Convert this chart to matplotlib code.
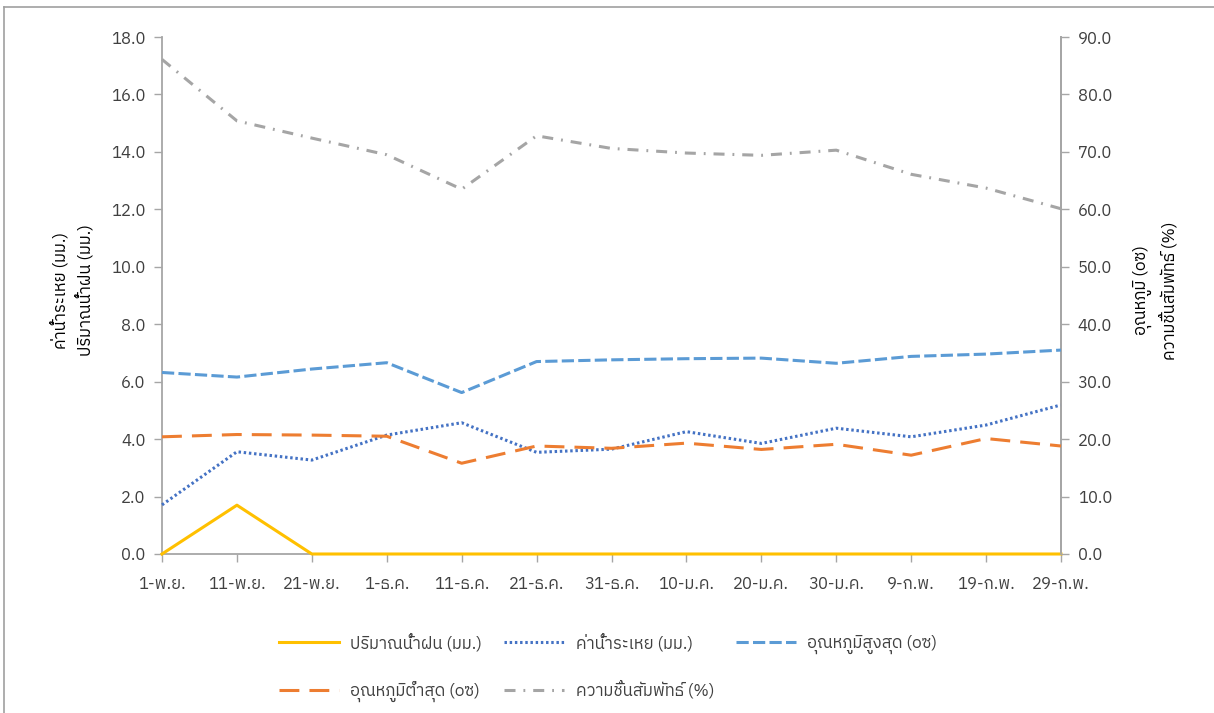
import matplotlib
matplotlib.use("Agg")
import matplotlib.pyplot as plt
from matplotlib import font_manager
from matplotlib.ft2font import FT2Font
from matplotlib.lines import Line2D

# ---------------- data ----------------
categories = ["1-พ.ย.", "11-พ.ย.", "21-พ.ย.", "1-ธ.ค.", "11-ธ.ค.", "21-ธ.ค.", "31-ธ.ค.",
              "10-ม.ค.", "20-ม.ค.", "30-ม.ค.", "9-ก.พ.", "19-ก.พ.", "29-ก.พ."]
rain = [0.0, 1.7, 0.0, 0.0, 0.0, 0.0, 0.0, 0.0, 0.0, 0.0, 0.0, 0.0, 0.0]
evap = [1.71, 3.56, 3.27, 4.14, 4.57, 3.54, 3.65, 4.26, 3.85, 4.38, 4.08, 4.49, 5.19]
tmax = [31.6, 30.8, 32.2, 33.3, 28.1, 33.5, 33.8, 34.0, 34.1, 33.2, 34.4, 34.8, 35.5]
tmin = [20.4, 20.8, 20.7, 20.5, 15.8, 18.8, 18.4, 19.3, 18.2, 19.1, 17.2, 20.1, 18.8]
humid = [86.1, 75.4, 72.4, 69.5, 63.5, 72.8, 70.6, 69.8, 69.4, 70.3, 66.1, 63.7, 60.1]

names = ["ปริมาณน้ำฝน (มม.)", "ค่าน้ำระเหย (มม.)", "อุณหภูมิสูงสุด (๐ซ)",
         "อุณหภูมิต่ำสุด (๐ซ)", "ความชื้นสัมพัทธ์ (%)"]
left_label = "ค่าน้ำระเหย (มม.)\nปริมาณน้ำฝน (มม.)"
right_label = "อุณหภูมิ (๐ซ)\nความชื้นสัมพัทธ์ (%)"
left_ticks = [0, 2, 4, 6, 8, 10, 12, 14, 16, 18]
right_ticks = [0, 10, 20, 30, 40, 50, 60, 70, 80, 90]

# ---------------- font with Thai glyphs ----------------
thai_fams = []
seen = set()
for fe in font_manager.fontManager.ttflist:
    if fe.name in seen:
        continue
    try:
        cm = FT2Font(fe.fname).get_charmap()
    except Exception:
        continue
    if 0x0E01 in cm and 0x0E49 in cm:
        seen.add(fe.name)
        thai_fams.append(fe.name)
pref = [f for f in thai_fams if "Thai" in f and "Looped" not in f] + thai_fams
family = (pref[:1] if pref else []) + ["DejaVu Sans"]
plt.rcParams["font.family"] = family

# ---------------- figure ----------------
W, H = 1214, 713
fig = plt.figure(figsize=(W / 100, H / 100), dpi=100)
ax = fig.add_axes([162 / W, 1 - 554 / H, (1061 - 162) / W, (554 - 37) / H])
ax2 = ax.twinx()

x = list(range(len(categories)))
lw = 2.2
st_rain = dict(color="#FFC000", lw=lw)
st_evap = dict(color="#4472C4", lw=lw, linestyle=(0, (0.8, 0.9)), dash_capstyle="butt")
st_tmax = dict(color="#5B9BD5", lw=lw, linestyle=(0, (4.0, 1.4)))
st_tmin = dict(color="#ED7D31", lw=lw, linestyle=(0, (6.5, 3.3)))
st_hum = dict(color="#A5A5A5", lw=lw, linestyle=(0, (3.6, 2.6, 0.6, 2.6)))

ax.plot(x, rain, zorder=3, clip_on=False, **st_rain)
ax.plot(x, evap, zorder=3, clip_on=False, **st_evap)
ax2.plot(x, tmax, zorder=3, clip_on=False, **st_tmax)
ax2.plot(x, tmin, zorder=3, clip_on=False, **st_tmin)
ax2.plot(x, humid, zorder=3, clip_on=False, **st_hum)

ax.set_xlim(0, len(categories) - 1)
ax.set_ylim(0, 18)
ax2.set_ylim(0, 90)
ax.set_xticks(x)
ax.set_xticklabels(categories)
ax.set_yticks(left_ticks)
ax.set_yticklabels([f"{v:.1f}" for v in left_ticks])
ax2.set_yticks(right_ticks)
ax2.set_yticklabels([f"{v:.1f}" for v in right_ticks])

spine_c = "#A6A6A6"
text_c = "#404040"
for a in (ax, ax2):
    a.spines["top"].set_visible(False)
    for s in ("left", "right", "bottom"):
        a.spines[s].set_color(spine_c)
        a.spines[s].set_linewidth(1.3)
    a.tick_params(colors=spine_c, labelcolor=text_c, labelsize=12, length=6, width=1.0)
ax2.spines["left"].set_visible(False)
ax2.spines["bottom"].set_visible(False)
ax.tick_params(axis="y", pad=6)
ax2.tick_params(axis="y", pad=6)
ax.tick_params(axis="x", pad=10)

ax.set_ylabel(left_label, fontsize=12, color="#000000", linespacing=1.45)
ax2.set_ylabel(right_label, fontsize=12, color="#000000", rotation=90, linespacing=1.45)
ax.yaxis.set_label_coords(-0.076, 0.51)
ax2.yaxis.set_label_coords(1.080, 0.51)

handles = [Line2D([], [], **st) for st in (st_rain, st_evap, st_tmax, st_tmin, st_hum)]
order = [0, 3, 1, 4, 2]
leg = fig.legend([handles[i] for i in order], [names[i] for i in order],
                 ncol=3, loc="upper left", bbox_to_anchor=(272 / W, 1 - 626 / H),
                 frameon=False, fontsize=12, handlelength=3.6, handletextpad=0.7,
                 columnspacing=1.3, labelspacing=1.75, borderaxespad=0)
for t in leg.get_texts():
    t.set_color(text_c)

# figure border
fig.add_artist(Line2D([4 / W, 4 / W], [0, 1 - 7 / H], transform=fig.transFigure,
                      color="#A0A0A0", lw=1.2))
fig.add_artist(Line2D([4 / W, 1], [1 - 7 / H, 1 - 7 / H], transform=fig.transFigure,
                      color="#A0A0A0", lw=1.2))

fig.savefig("out.png", dpi=100, facecolor="white")
